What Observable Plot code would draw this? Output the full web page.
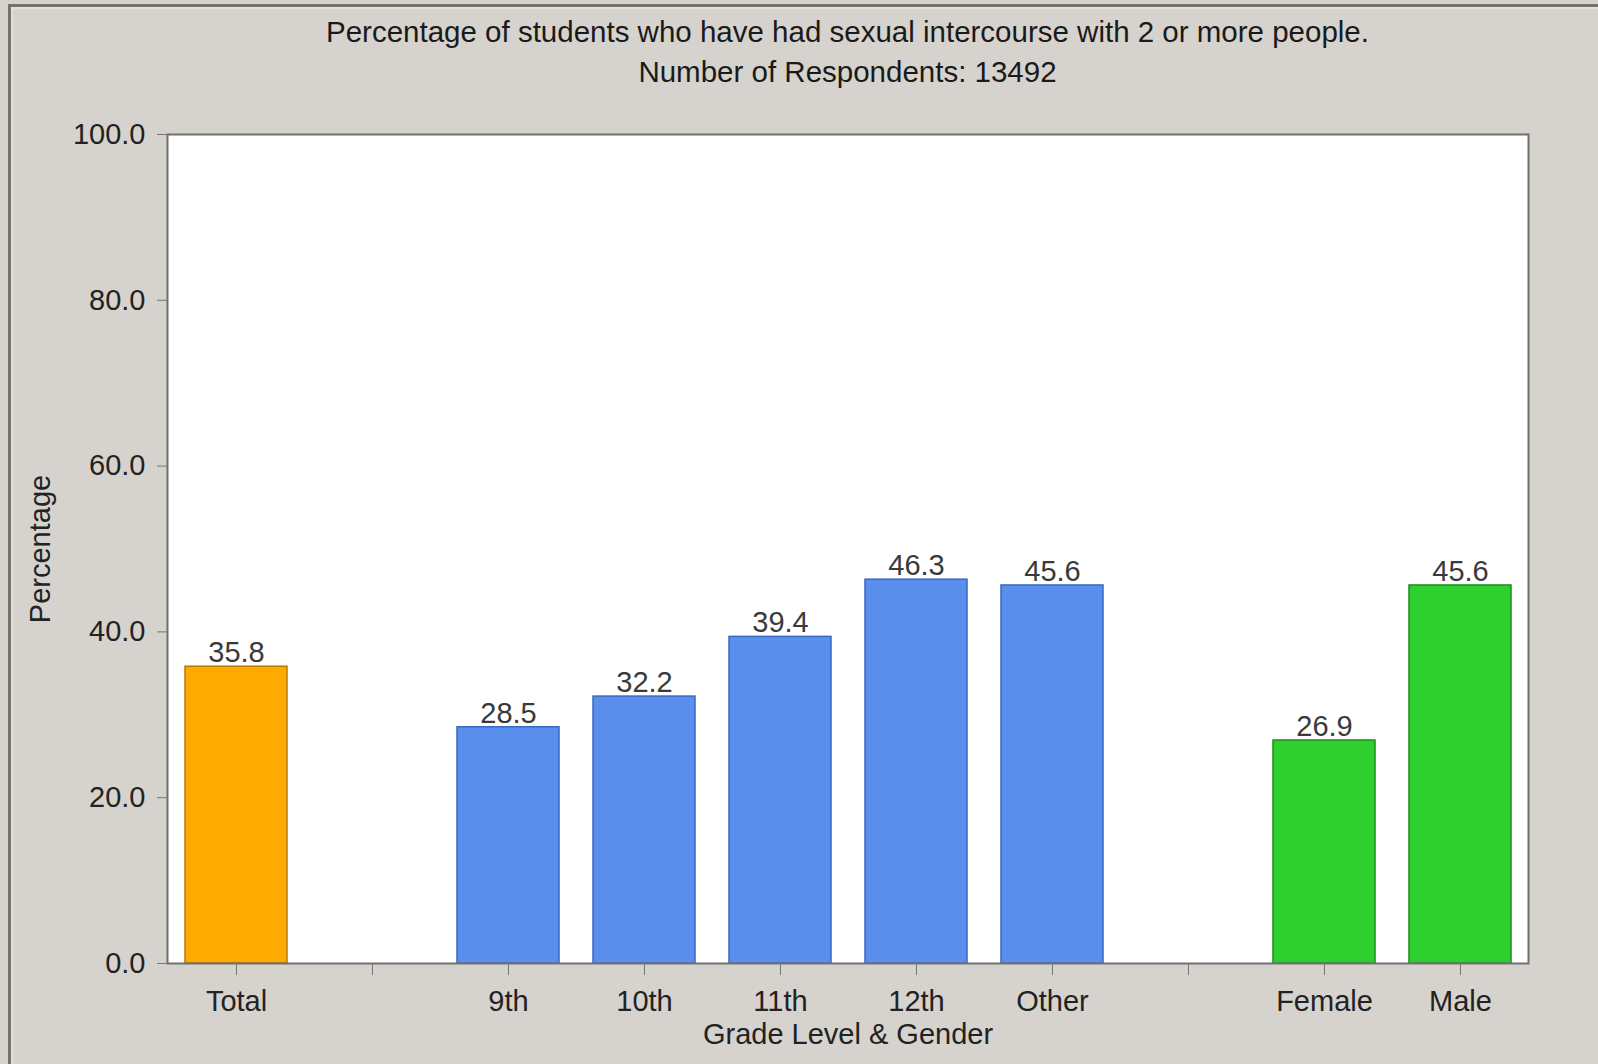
<!DOCTYPE html>
<html>
<head>
<meta charset="utf-8">
<script src="https://cdn.jsdelivr.net/npm/d3@7"></script>
<script src="https://cdn.jsdelivr.net/npm/@observablehq/plot@0.6"></script>
<style>
  html, body { margin: 0; padding: 0; background: #d6d2cd; }
  #wrap { position: relative; width: 1598px; height: 1064px; overflow: hidden; background: #d6d2cd; font-family: "Liberation Sans", Arial, sans-serif; color: #1a1a1a; }
  #edge { position: absolute; left: 8px; top: 4px; right: -10px; bottom: -10px; border-left: 3px solid #76716c; border-top: 3px solid #76716c; }
  #edge2 { position: absolute; left: 11px; top: 7px; right: -10px; bottom: -10px; border-left: 2px solid #e4e1dd; border-top: 2px solid #e4e1dd; }
  .ttl { position: absolute; left: 0; width: 1695px; text-align: center; font-size: 29.5px; line-height: 34px; white-space: nowrap; }
  #title { top: 15px; }
  #subtitle { top: 55px; }
  #chart { position: absolute; left: 0; top: 95px; }
</style>
</head>
<body>
<div id="wrap">
  <div id="edge"></div>
  <div id="edge2"></div>
  <div class="ttl" id="title">Percentage of students who have had sexual intercourse with 2 or more people.</div>
  <div class="ttl" id="subtitle">Number of Respondents: 13492</div>
  <div id="chart"></div>
</div>
<script>
const categories = ["Total", "9th", "10th", "11th", "12th", "Other", "Female", "Male"];
const values = [35.8, 28.5, 32.2, 39.4, 46.3, 45.6, 26.9, 45.6];
const groups = ["Total", "Grade", "Grade", "Grade", "Grade", "Grade", "Gender", "Gender"];
const xOrder = ["Total", "gap1", "9th", "10th", "11th", "12th", "Other", "gap2", "Female", "Male"];
const yTicks = [0, 20, 40, 60, 80, 100];
const groupFill = {Total: "#ffaa00", Grade: "#5b8fed", Gender: "#2fcf2f"};
const groupStroke = {Total: "#b87a00", Grade: "#3b68c0", Gender: "#1c8f1c"};

const data = categories.map((c, i) => ({cat: c, value: values[i], group: groups[i]}));
const barsFor = g => Plot.barY(data.filter(d => d.group === g), {
  x: "cat", y: "value", fill: groupFill[g], stroke: groupStroke[g], strokeWidth: 1.5
});

const chart = Plot.plot({
  width: 1598,
  height: 969,
  marginTop: 39,
  marginBottom: 101,
  marginLeft: 167,
  marginRight: 70,
  style: {background: "transparent", fontFamily: "'Liberation Sans', Arial, sans-serif", fontSize: "29px", color: "#222"},
  x: {domain: xOrder, paddingInner: 0.25, paddingOuter: 0.125},
  y: {domain: [0, 100]},
  marks: [
    Plot.frame({fill: "white", stroke: "none"}),
    barsFor("Total"),
    barsFor("Grade"),
    barsFor("Gender"),
    Plot.text(data, {x: "cat", y: "value", text: d => d.value.toFixed(1), dy: -14, fill: "#3a3a3a", fontSize: 29}),
    Plot.frame({stroke: "#707070", strokeWidth: 2}),
    Plot.axisX({tickSize: 12, tickPadding: 15, stroke: "#777", tickFormat: d => d.startsWith("gap") ? "" : d, label: null}),
    Plot.axisY({ticks: yTicks, tickFormat: d3.format(".1f"), tickSize: 10, tickPadding: 12, stroke: "#777", label: null}),
    Plot.text(["Grade Level & Gender"], {frameAnchor: "bottom", dy: 80, text: d => d, fill: "#222", fontSize: 29}),
    Plot.text(["Percentage"], {frameAnchor: "left", dx: -127, rotate: -90, textAnchor: "middle", text: d => d, fill: "#222", fontSize: 29})
  ]
});
document.getElementById("chart").appendChild(chart);
</script>
</body>
</html>
